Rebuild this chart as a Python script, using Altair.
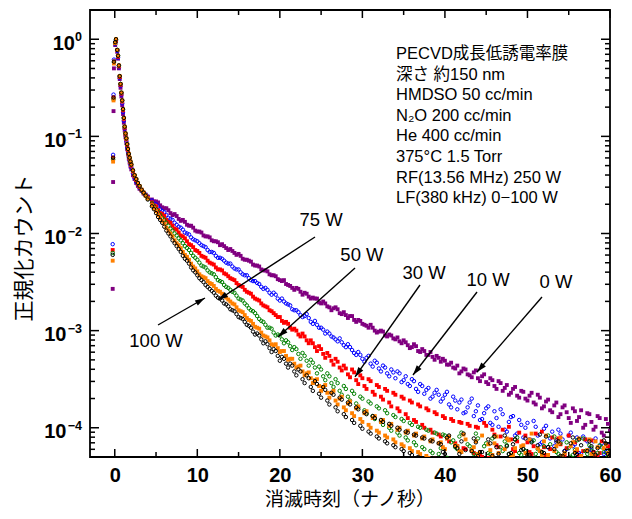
import altair as alt
import pandas as pd

# ---------------- data (log10 of normalized counts) ----------------
SERIES = ["0 W", "10 W", "30 W", "50 W", "75 W", "100 W"]
COLORS = ["#800080", "#0000ff", "#ff0000", "#008000", "#ff8000", "#000000"]
FILLED = [True, False, True, False, True, False]

T_EARLY = [-0.25, -0.2, -0.15, -0.1, 0.05, 0.15, 0.3, 0.4, 0.5, 0.6, 0.7, 0.8, 0.9, 1.0,
           1.1, 1.2, 1.3, 1.4, 1.5, 1.6, 1.7, 1.8, 1.9, 2.0, 2.2, 2.4, 2.6, 2.8, 3.0,
           3.25, 3.5, 3.75, 4.0]
T_MAIN = [round(4.5 + 0.5 * i, 2) for i in range(112)]
T_MID = [round(4.75 + 0.5 * i, 2) for i in range(111)]
TIME = T_EARLY + T_MAIN

LG_0W = [-2.57, -1.47, -0.74, -0.30, -0.06, -0.02, -0.13, -0.20, -0.30, -0.41, -0.50, -0.59, -0.68,
         -0.77, -0.86, -0.94, -1.01, -1.07, -1.13, -1.18, -1.23, -1.27, -1.31, -1.34, -1.40, -1.44,
         -1.48, -1.51, -1.54, -1.56, -1.59, -1.60, -1.62,
         -1.65, -1.67, -1.71, -1.74, -1.76, -1.81, -1.82, -1.87, -1.88, -1.92,
         -1.94, -1.98, -1.99, -2.03, -2.04, -2.08, -2.09, -2.11, -2.15, -2.16,
         -2.20, -2.21, -2.26, -2.27, -2.29, -2.33, -2.34, -2.38, -2.39, -2.43,
         -2.44, -2.48, -2.48, -2.53, -2.56, -2.56, -2.60, -2.61, -2.65, -2.66,
         -2.67, -2.72, -2.72, -2.76, -2.77, -2.78, -2.83, -2.84, -2.85, -2.89,
         -2.89, -2.93, -2.95, -2.94, -3.00, -3.01, -3.01, -3.06, -3.05, -3.09,
         -3.11, -3.10, -3.15, -3.17, -3.16, -3.22, -3.21, -3.25, -3.27, -3.26,
         -3.32, -3.31, -3.35, -3.38, -3.36, -3.42, -3.40, -3.46, -3.43, -3.49,
         -3.47, -3.53, -3.49, -3.57, -3.52, -3.62, -3.56, -3.64, -3.58, -3.69,
         -3.63, -3.72, -3.64, -3.76, -3.69, -3.78, -3.71, -3.84, -3.74, -3.86,
         -3.77, -3.90, -3.80, -3.93, -3.82, -3.97, -3.86, -4.02, -3.88, -4.05,
         -3.91, -4.03]
LG_0W_MID = [-1.67, -1.68, -1.73, -1.74, -1.79, -1.80, -1.85, -1.86, -1.91, -1.92,
             -1.97, -1.98, -2.02, -2.03, -2.07, -2.08, -2.12, -2.13, -2.17, -2.18,
             -2.22, -2.23, -2.27, -2.28, -2.32, -2.33, -2.37, -2.38, -2.42, -2.43,
             -2.47, -2.49, -2.52, -2.54, -2.58, -2.57, -2.63, -2.62, -2.67, -2.67,
             -2.71, -2.70, -2.75, -2.79, -2.76, -2.82, -2.81, -2.87, -2.85, -2.91,
             -2.90, -2.94, -2.97, -2.97, -3.02, -3.00, -3.05, -3.04, -3.08, -3.07,
             -3.13, -3.12, -3.18, -3.14, -3.21, -3.19, -3.25, -3.22, -3.30, -3.28,
             -3.29, -3.35, -3.33, -3.39, -3.44, -3.39, -3.45, -3.48, -3.41, -3.52,
             -3.45, -3.55, -3.51, -3.60, -3.54, -3.59, -3.66, -3.60, -3.67, -3.62,
             -3.70, -3.67, -3.74, -3.66, -3.80, -3.73, -3.82, -3.77, -3.89, -3.79,
             -3.84, -3.95, -3.83, -3.89, -4.00, -3.85, -3.94, -3.99, -3.90, -4.08,
             -3.96]

LG_10W = [-2.11, -1.19, -0.57, -0.21, -0.05, -0.01, -0.12, -0.19, -0.29, -0.40, -0.48, -0.57, -0.66,
          -0.75, -0.84, -0.92, -0.99, -1.05, -1.11, -1.16, -1.21, -1.25, -1.29, -1.32, -1.38, -1.43,
          -1.47, -1.50, -1.53, -1.56, -1.58, -1.60, -1.62,
          -1.66, -1.70, -1.75, -1.78, -1.84, -1.86, -1.91, -1.94, -1.99, -2.01,
          -2.06, -2.08, -2.12, -2.14, -2.19, -2.20, -2.25, -2.26, -2.30, -2.31,
          -2.36, -2.37, -2.42, -2.43, -2.48, -2.49, -2.52, -2.57, -2.58, -2.63,
          -2.63, -2.69, -2.70, -2.73, -2.78, -2.79, -2.84, -2.85, -2.87, -2.93,
          -2.94, -2.97, -3.03, -3.03, -3.07, -3.11, -3.12, -3.17, -3.17, -3.23,
          -3.22, -3.29, -3.28, -3.34, -3.31, -3.39, -3.36, -3.44, -3.40, -3.49,
          -3.44, -3.51, -3.55, -3.50, -3.60, -3.55, -3.65, -3.59, -3.68, -3.61,
          -3.73, -3.66, -3.76, -3.68, -3.81, -3.71, -3.84, -3.74, -3.88, -3.77,
          -3.91, -3.80, -3.95, -3.83, -3.99, -3.86, -4.04, -3.89, -4.08, -3.92,
          -4.10, -3.95, -4.13, -3.99, -4.17, -4.01, -4.20, -4.04, -4.15, -4.06,
          -4.24, -4.08, -4.19, -4.10, -4.27, -4.12, -4.22, -4.14, -4.29, -4.16,
          -4.25, -4.21]
LG_10W_MID = [-1.69, -1.72, -1.77, -1.81, -1.85, -1.89, -1.93, -1.96, -2.00, -2.04,
              -2.07, -2.10, -2.13, -2.17, -2.19, -2.23, -2.25, -2.28, -2.31, -2.34,
              -2.37, -2.40, -2.43, -2.46, -2.49, -2.51, -2.55, -2.56, -2.61, -2.61,
              -2.67, -2.67, -2.72, -2.74, -2.79, -2.81, -2.86, -2.83, -2.91, -2.90,
              -2.97, -2.99, -3.01, -3.06, -3.09, -3.08, -3.15, -3.14, -3.20, -3.25,
              -3.25, -3.32, -3.26, -3.37, -3.33, -3.42, -3.38, -3.47, -3.43, -3.42,
              -3.53, -3.47, -3.57, -3.52, -3.63, -3.57, -3.61, -3.70, -3.64, -3.66,
              -3.70, -3.63, -3.79, -3.72, -3.74, -3.85, -3.79, -3.70, -3.83, -3.92,
              -3.85, -3.78, -3.97, -3.90, -3.81, -4.02, -3.94, -3.88, -4.06, -3.97,
              -4.00, -4.12, -3.93, -4.08, -4.15, -3.98, -4.11, -4.19, -4.02, -4.12,
              -4.22, -4.05, -4.17, -4.26, -4.09, -4.14, -4.23, -4.11, -4.19, -4.27,
              -4.18]

LG_30W = [-2.17, -1.22, -0.60, -0.23, -0.04, -0.01, -0.11, -0.18, -0.28, -0.39, -0.47, -0.56, -0.64,
          -0.73, -0.82, -0.91, -0.98, -1.03, -1.09, -1.14, -1.19, -1.23, -1.27, -1.30, -1.36, -1.41,
          -1.45, -1.49, -1.52, -1.55, -1.58, -1.61, -1.63,
          -1.68, -1.72, -1.79, -1.82, -1.88, -1.92, -1.96, -2.02, -2.05, -2.11,
          -2.14, -2.18, -2.23, -2.25, -2.30, -2.32, -2.37, -2.38, -2.42, -2.46,
          -2.48, -2.53, -2.55, -2.60, -2.62, -2.67, -2.69, -2.74, -2.76, -2.80,
          -2.84, -2.86, -2.92, -2.93, -2.99, -3.00, -3.06, -3.06, -3.13, -3.13,
          -3.21, -3.19, -3.28, -3.26, -3.35, -3.32, -3.41, -3.39, -3.48, -3.43,
          -3.55, -3.49, -3.60, -3.52, -3.66, -3.58, -3.71, -3.62, -3.78, -3.66,
          -3.83, -3.70, -3.90, -3.74, -3.94, -3.78, -4.00, -3.82, -4.05, -3.86,
          -4.09, -3.90, -4.14, -3.93, -4.19, -3.95, -4.22, -3.98, -4.26, -4.00,
          -4.30, -3.98, -4.33, -4.07, -4.20, -4.02, -4.36, -4.12, -4.24, -4.05,
          -4.40, -4.15, -4.27, -4.06, -4.42, -4.20, -4.29, -4.10, -4.45, -4.17,
          -4.28, -4.08, -4.48, -4.23, -4.29, -4.12, -4.50, -4.25, -4.29, -4.14,
          -4.52, -4.22]
LG_30W_MID = [-1.71, -1.76, -1.80, -1.86, -1.89, -1.95, -1.99, -2.03, -2.08, -2.12,
              -2.17, -2.20, -2.24, -2.28, -2.31, -2.35, -2.37, -2.41, -2.44, -2.47,
              -2.51, -2.54, -2.58, -2.61, -2.65, -2.68, -2.72, -2.75, -2.79, -2.82,
              -2.86, -2.90, -2.91, -2.97, -2.98, -3.04, -3.03, -3.10, -3.10, -3.17,
              -3.16, -3.24, -3.23, -3.31, -3.29, -3.38, -3.36, -3.45, -3.40, -3.51,
              -3.46, -3.57, -3.50, -3.63, -3.56, -3.68, -3.60, -3.74, -3.64, -3.80,
              -3.68, -3.86, -3.72, -3.92, -3.76, -3.97, -3.80, -4.02, -3.84, -4.07,
              -3.88, -4.11, -3.91, -4.16, -3.94, -4.21, -3.96, -4.24, -3.99, -4.28,
              -3.95, -4.31, -4.02, -4.18, -4.09, -4.34, -3.99, -4.22, -4.14, -4.38,
              -4.08, -4.25, -4.19, -4.40, -4.04, -4.28, -4.22, -4.43, -4.11, -4.29,
              -4.21, -4.46, -4.15, -4.29, -4.24, -4.48, -4.13, -4.29, -4.26, -4.50,
              -4.19]

LG_50W = [-2.20, -1.24, -0.62, -0.24, -0.04, 0.00, -0.11, -0.17, -0.27, -0.38, -0.46, -0.55, -0.63,
          -0.72, -0.81, -0.90, -0.97, -1.02, -1.08, -1.13, -1.18, -1.22, -1.26, -1.29, -1.35, -1.40,
          -1.44, -1.48, -1.51, -1.55, -1.58, -1.61, -1.64,
          -1.69, -1.75, -1.81, -1.86, -1.92, -1.97, -2.02, -2.07, -2.13, -2.17,
          -2.23, -2.27, -2.33, -2.35, -2.40, -2.42, -2.48, -2.50, -2.55, -2.58,
          -2.61, -2.67, -2.69, -2.74, -2.79, -2.82, -2.88, -2.91, -2.97, -2.98,
          -3.05, -3.05, -3.13, -3.12, -3.20, -3.19, -3.29, -3.26, -3.36, -3.33,
          -3.44, -3.40, -3.51, -3.47, -3.58, -3.54, -3.66, -3.60, -3.72, -3.65,
          -3.79, -3.70, -3.85, -3.75, -3.91, -3.80, -3.97, -3.85, -4.03, -3.89,
          -4.08, -3.93, -4.13, -3.97, -4.18, -4.00, -4.22, -4.03, -4.26, -4.06,
          -4.21, -4.08, -4.40, -4.13, -4.22, -4.05, -4.38, -4.19, -4.27, -4.11,
          -4.41, -4.16, -4.27, -4.09, -4.44, -4.24, -4.18, -4.36, -4.12, -4.26,
          -4.22, -4.45, -4.14, -4.27, -4.48, -4.19, -4.08, -4.40, -4.25, -4.16,
          -4.52, -4.21, -4.28, -4.13, -4.53, -4.24, -4.18, -4.45, -4.26, -4.20,
          -4.35, -4.23]
LG_50W_MID = [-1.72, -1.78, -1.84, -1.89, -1.95, -2.00, -2.05, -2.10, -2.15, -2.20,
              -2.25, -2.30, -2.34, -2.38, -2.41, -2.45, -2.49, -2.53, -2.56, -2.60,
              -2.64, -2.68, -2.72, -2.77, -2.80, -2.85, -2.90, -2.94, -2.97, -3.02,
              -3.04, -3.09, -3.10, -3.16, -3.17, -3.24, -3.23, -3.31, -3.30, -3.38,
              -3.37, -3.47, -3.44, -3.54, -3.50, -3.62, -3.57, -3.68, -3.62, -3.75,
              -3.68, -3.82, -3.73, -3.88, -3.78, -3.94, -3.82, -4.00, -3.87, -4.05,
              -3.91, -4.10, -3.95, -4.15, -3.99, -4.20, -4.02, -4.24, -4.05, -4.27,
              -4.07, -4.31, -4.15, -4.20, -4.09, -4.35, -4.17, -4.23, -4.06, -4.39,
              -4.19, -4.26, -4.11, -4.42, -4.20, -4.14, -4.27, -4.45, -4.10, -4.28,
              -4.24, -4.47, -4.13, -4.22, -4.26, -4.49, -4.17, -4.09, -4.27, -4.51,
              -4.15, -4.30, -4.23, -4.52, -4.11, -4.27, -4.21, -4.54, -4.18, -4.25,
              -4.29]

LG_75W = [-2.28, -1.26, -0.63, -0.25, -0.04, 0.00, -0.11, -0.17, -0.27, -0.38, -0.46, -0.55, -0.63,
          -0.72, -0.81, -0.90, -0.97, -1.02, -1.08, -1.13, -1.18, -1.22, -1.26, -1.29, -1.35, -1.40,
          -1.44, -1.48, -1.51, -1.55, -1.58, -1.61, -1.64,
          -1.71, -1.77, -1.84, -1.90, -1.97, -2.03, -2.10, -2.15, -2.22, -2.27,
          -2.34, -2.39, -2.44, -2.46, -2.51, -2.54, -2.59, -2.62, -2.66, -2.70,
          -2.73, -2.79, -2.81, -2.87, -2.90, -2.96, -2.98, -3.05, -3.07, -3.14,
          -3.14, -3.22, -3.21, -3.30, -3.29, -3.38, -3.36, -3.46, -3.43, -3.54,
          -3.50, -3.62, -3.56, -3.69, -3.62, -3.76, -3.68, -3.82, -3.73, -3.88,
          -3.78, -3.94, -3.83, -4.00, -3.88, -4.05, -3.92, -4.10, -3.96, -4.15,
          -4.00, -4.19, -4.03, -4.24, -4.06, -4.27, -4.09, -4.31, -4.12, -4.34,
          -4.15, -4.22, -4.09, -4.38, -4.19, -4.25, -4.12, -4.41, -4.20, -4.27,
          -4.08, -4.44, -4.23, -4.16, -4.26, -4.47, -4.11, -4.29, -4.21, -4.50,
          -4.18, -4.27, -4.06, -4.52, -4.24, -4.14, -4.28, -4.54, -4.19, -4.10,
          -4.26, -4.56, -4.15, -4.22, -4.29, -4.58, -4.12, -4.27, -4.20, -4.60,
          -4.17, -4.28]
LG_75W_MID = [-1.74, -1.81, -1.87, -1.94, -2.00, -2.07, -2.12, -2.19, -2.24, -2.31,
              -2.36, -2.42, -2.45, -2.49, -2.52, -2.57, -2.60, -2.64, -2.68, -2.72,
              -2.76, -2.80, -2.84, -2.89, -2.93, -2.97, -3.02, -3.06, -3.10, -3.15,
              -3.18, -3.21, -3.26, -3.29, -3.34, -3.37, -3.42, -3.44, -3.49, -3.51,
              -3.57, -3.58, -3.64, -3.64, -3.72, -3.70, -3.79, -3.75, -3.85, -3.80,
              -3.91, -3.85, -3.97, -3.90, -4.03, -3.94, -4.08, -3.98, -4.12, -4.02,
              -4.17, -4.05, -4.21, -4.08, -4.25, -4.11, -4.29, -4.14, -4.32, -4.16,
              -4.20, -4.11, -4.36, -4.18, -4.24, -4.07, -4.39, -4.23, -4.14, -4.25,
              -4.42, -4.17, -4.28, -4.09, -4.45, -4.22, -4.13, -4.28, -4.48, -4.19,
              -4.26, -4.12, -4.51, -4.21, -4.28, -4.08, -4.53, -4.24, -4.16, -4.29,
              -4.55, -4.19, -4.25, -4.11, -4.57, -4.23, -4.27, -4.14, -4.59, -4.21,
              -4.26]

LG_100W = [-2.22, -1.22, -0.60, -0.23, -0.03, 0.00, -0.11, -0.17, -0.27, -0.38, -0.46, -0.55, -0.63,
           -0.72, -0.81, -0.90, -0.97, -1.02, -1.08, -1.13, -1.18, -1.22, -1.26, -1.29, -1.35, -1.40,
           -1.44, -1.48, -1.51, -1.55, -1.58, -1.61, -1.65,
           -1.72, -1.79, -1.86, -1.93, -2.00, -2.07, -2.13, -2.19, -2.26, -2.31,
           -2.38, -2.43, -2.48, -2.53, -2.57, -2.61, -2.66, -2.69, -2.73, -2.78,
           -2.80, -2.86, -2.88, -2.94, -2.97, -3.04, -3.05, -3.13, -3.14, -3.22,
           -3.21, -3.31, -3.29, -3.38, -3.36, -3.46, -3.42, -3.54, -3.49, -3.62,
           -3.55, -3.69, -3.61, -3.76, -3.66, -3.83, -3.71, -3.89, -3.76, -3.95,
           -3.81, -4.01, -3.86, -4.06, -3.90, -4.11, -3.94, -4.16, -3.98, -4.20,
           -4.02, -4.24, -4.05, -4.28, -4.08, -4.32, -4.11, -4.35, -4.14, -4.38,
           -4.17, -4.27, -4.08, -4.41, -4.21, -4.14, -4.23, -4.44, -4.11, -4.29,
           -4.25, -4.47, -4.16, -4.09, -4.27, -4.50, -4.19, -4.26, -4.12, -4.52,
           -4.22, -4.28, -4.15, -4.54, -4.07, -4.26, -4.20, -4.56, -4.13, -4.29,
           -4.24, -4.58, -4.10, -4.27, -4.18, -4.60, -4.14, -4.25, -4.21, -4.62,
           -4.16, -4.28]
LG_100W_MID = [-1.75, -1.83, -1.89, -1.97, -2.03, -2.10, -2.16, -2.23, -2.28, -2.35,
               -2.40, -2.46, -2.50, -2.55, -2.59, -2.64, -2.67, -2.72, -2.75, -2.79,
               -2.83, -2.87, -2.91, -2.95, -3.01, -3.03, -3.09, -3.11, -3.18, -3.19,
               -3.26, -3.27, -3.34, -3.34, -3.42, -3.40, -3.50, -3.46, -3.58, -3.52,
               -3.65, -3.58, -3.72, -3.64, -3.79, -3.69, -3.86, -3.74, -3.92, -3.79,
               -3.98, -3.84, -4.04, -3.88, -4.09, -3.92, -4.14, -3.96, -4.18, -4.00,
               -4.22, -4.04, -4.26, -4.07, -4.30, -4.10, -4.33, -4.13, -4.36, -4.16,
               -4.25, -4.10, -4.39, -4.19, -4.27, -4.06, -4.42, -4.24, -4.15, -4.25,
               -4.45, -4.12, -4.29, -4.20, -4.48, -4.08, -4.27, -4.17, -4.51, -4.23,
               -4.11, -4.28, -4.53, -4.18, -4.25, -4.09, -4.55, -4.22, -4.14, -4.29,
               -4.57, -4.16, -4.26, -4.12, -4.59, -4.24, -4.19, -4.28, -4.61, -4.13,
               -4.27]

ALL_LG = [LG_0W, LG_10W, LG_30W, LG_50W, LG_75W, LG_100W]
ALL_MID = [LG_0W_MID, LG_10W_MID, LG_30W_MID, LG_50W_MID, LG_75W_MID, LG_100W_MID]

X_LABELS = [0, 10, 20, 30, 40, 50, 60]
X_MINOR = [5, 15, 25, 35, 45, 55]
Y_MAJOR = [1, 0.1, 0.01, 0.001, 0.0001]
Y_EXP = ["0", "\u22121", "\u22122", "\u22123", "\u22124"]
Y_MINOR = [k * 10.0 ** e for e in range(-5, 1) for k in range(2, 10) if 5e-5 < k * 10.0 ** e < 1.99]

INFO_LINES = ["PECVD成長低誘電率膜", "深さ 約150 nm", "HMDSO 50 cc/min", "N\u2082O 200 cc/min",
              "He 400 cc/min", "375°C 1.5 Torr", "RF(13.56 MHz) 250 W", "LF(380 kHz) 0\u2212100 W"]

# annotation placement (label, text pos, arrow start, arrow end, arrow angle) in data coords
ANN_LABEL = ["75 W", "100 W", "50 W", "30 W", "10 W", "0 W"]
ANN_TX = [24.99, 5.0, 29.95, 37.47, 45.22, 53.46]
ANN_TY = [-1.861, -3.107, -2.221, -2.407, -2.479, -2.499]
ANN_X0 = [24.26, 5.24, 29.11, 36.98, 43.89, 51.76]
ANN_Y0 = [-2.036, -2.942, -2.355, -2.530, -2.602, -2.654]
ANN_X1 = [12.51, 10.93, 19.78, 29.11, 36.13, 43.89]
ANN_Y1 = [-2.685, -2.664, -3.066, -3.477, -3.457, -3.426]
ANN_ANG = [237, 60, 228, 215, 218, 221]

# ---------------- build ----------------
for lg, mid in zip(ALL_LG, ALL_MID):
    assert len(lg) == len(TIME), len(lg)
    assert len(mid) == len(T_MID), len(mid)

W, H = 520, 447
FONT = "Liberation Sans, Arial, Noto Sans CJK JP"
JFONT = "Noto Sans CJK JP"

XS = alt.Scale(domain=[-3, 60], nice=False, zero=False)
YS = alt.Scale(type="log", domain=[5e-5, 2], nice=False)
XAXIS = alt.Axis(values=X_LABELS, tickSize=0, domain=False, grid=False, labelFontSize=20,
                 labelFontWeight="bold", labelFont=FONT, labelColor="black", labelPadding=8,
                 labelFlush=False, labelOverlap=False, title=None)


def xe(f):
    return alt.X(f, type="quantitative", scale=XS, axis=XAXIS, title=None)


def ye(f):
    return alt.Y(f, type="quantitative", scale=YS, axis=None, title=None)


layers = []
for name, col, filled, lg, mid in zip(SERIES, COLORS, FILLED, ALL_LG, ALL_MID):
    d = pd.DataFrame({"t": TIME + T_MID, "v": [10 ** x for x in lg + mid]})
    if filled:
        m = alt.Chart(d).mark_point(shape="square", filled=True, size=15, color=col,
                                    opacity=1, clip=True)
    else:
        m = alt.Chart(d).mark_point(shape="circle", filled=False, size=12, color=col,
                                    strokeWidth=1, opacity=1, clip=True)
    layers.append(m.encode(x=xe("t"), y=ye("v")))

# inside ticks (all four sides)
xmaj = pd.DataFrame({"t": X_LABELS})
xmin = pd.DataFrame({"t": X_MINOR})
ymaj = pd.DataFrame({"v": Y_MAJOR})
ymin = pd.DataFrame({"v": Y_MINOR})
R = dict(color="black", strokeWidth=1.5)
layers += [
    alt.Chart(xmaj).mark_rule(**R).encode(x=xe("t"), y=alt.value(H), y2=alt.value(H - 8)),
    alt.Chart(xmaj).mark_rule(**R).encode(x=xe("t"), y=alt.value(0), y2=alt.value(8)),
    alt.Chart(xmin).mark_rule(**R).encode(x=xe("t"), y=alt.value(H), y2=alt.value(H - 5)),
    alt.Chart(xmin).mark_rule(**R).encode(x=xe("t"), y=alt.value(0), y2=alt.value(5)),
    alt.Chart(ymaj).mark_rule(**R).encode(y=ye("v"), x=alt.value(0), x2=alt.value(9)),
    alt.Chart(ymaj).mark_rule(**R).encode(y=ye("v"), x=alt.value(W), x2=alt.value(W - 9)),
    alt.Chart(ymin).mark_rule(**R).encode(y=ye("v"), x=alt.value(0), x2=alt.value(5)),
    alt.Chart(ymin).mark_rule(**R).encode(y=ye("v"), x=alt.value(W), x2=alt.value(W - 5)),
]

# y tick labels 10^k
ylab = pd.DataFrame({"v": Y_MAJOR, "e": Y_EXP, "b": ["10"] * len(Y_MAJOR)})
layers += [
    alt.Chart(ylab.iloc[:1]).mark_text(align="right", baseline="middle", dy=4.5, fontSize=20,
                                       fontWeight="bold", font=FONT, color="black")
    .encode(y=ye("v"), x=alt.value(-15), text="b:N"),
    alt.Chart(ylab.iloc[1:]).mark_text(align="right", baseline="middle", dy=4.5, fontSize=20,
                                       fontWeight="bold", font=FONT, color="black")
    .encode(y=ye("v"), x=alt.value(-23.5), text="b:N"),
    alt.Chart(ylab).mark_text(align="right", baseline="middle", dy=-2, fontSize=12.5,
                              fontWeight="bold", font=FONT, color="black")
    .encode(y=ye("v"), x=alt.value(-8), text="e:N"),
]

# annotations
ann = pd.DataFrame({"label": ANN_LABEL, "tx": ANN_TX, "ty": [10 ** y for y in ANN_TY],
                    "x0": ANN_X0, "y0": [10 ** y for y in ANN_Y0],
                    "x1": ANN_X1, "y1": [10 ** y for y in ANN_Y1], "ang": ANN_ANG})
ARROW = "M0,0 L-0.6,2 L0.6,2 Z"
layers += [
    alt.Chart(ann).mark_rule(color="black", strokeWidth=1.4)
    .encode(x=xe("x0"), y=ye("y0"), x2="x1:Q", y2="y1:Q"),
    alt.Chart(ann).mark_point(shape=ARROW, filled=True, size=100, color="black", opacity=1,
                              strokeWidth=0)
    .encode(x=xe("x1"), y=ye("y1"), angle=alt.Angle("ang:Q", scale=None)),
    alt.Chart(ann).mark_text(fontSize=18.5, font=FONT, color="black", align="center",
                             baseline="middle")
    .encode(x=xe("tx"), y=ye("ty"), text="label:N"),
]

one = pd.DataFrame({"a": [0]})
layers += [
    alt.Chart(one).mark_text(text=INFO_LINES, align="left", baseline="top", fontSize=16.5,
                             lineHeight=20.6, font=FONT, color="black")
    .encode(x=alt.value(306), y=alt.value(36)),
    alt.Chart(one).mark_text(text="消滅時刻（ナノ秒）", align="center", baseline="alphabetic",
                             fontSize=19, font=JFONT, color="black")
    .encode(x=alt.value(260), y=alt.value(496)),
    alt.Chart(one).mark_text(text="正規化カウント", align="center", baseline="middle",
                             fontSize=21, font=JFONT, color="black", angle=270)
    .encode(x=alt.value(-65), y=alt.value(238)),
]

chart = (
    alt.layer(*layers)
    .properties(width=W, height=H, background="white",
                padding={"left": 82, "top": 2, "right": 14, "bottom": 54},
                autosize=alt.AutoSizeParams(type="none"))
    .configure_view(stroke="black", strokeWidth=1.8)
)

chart.save("out.html", embed_options={"renderer": "svg", "actions": False})
